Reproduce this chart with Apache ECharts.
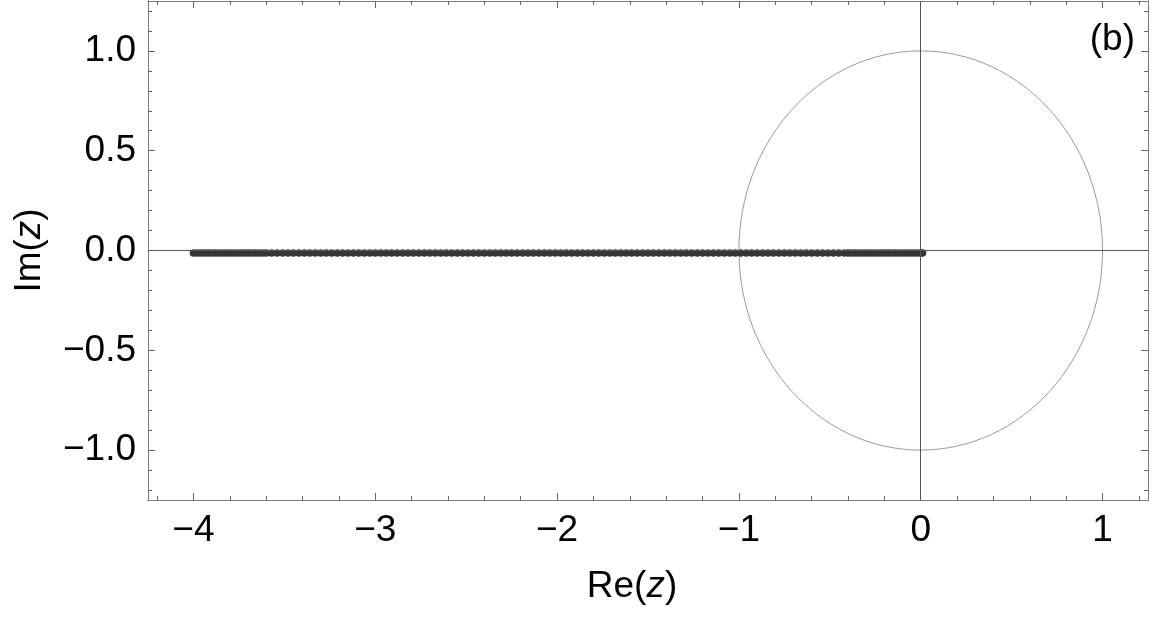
<!DOCTYPE html>
<html>
<head>
<meta charset="utf-8">
<script src="https://cdn.jsdelivr.net/npm/echarts@6/dist/echarts.min.js"></script>
<style>
  html, body { margin: 0; padding: 0; background: #fff; }
  #main { width: 1152px; height: 618px; }
</style>
</head>
<body>
<div id="main"></div>
<script>
const zeroRe = [
  -4.00, -3.98, -3.96, -3.94, -3.92, -3.90, -3.88, -3.86, -3.84, -3.82, -3.80,
  -3.78, -3.76, -3.74, -3.72, -3.70, -3.68, -3.66, -3.64, -3.62, -3.60,
  -3.57, -3.54, -3.51, -3.48, -3.45, -3.42, -3.39, -3.36, -3.33, -3.30,
  -3.27, -3.24, -3.21, -3.18, -3.15, -3.12, -3.09, -3.06, -3.03, -3.00,
  -2.97, -2.94, -2.91, -2.88, -2.85, -2.82, -2.79, -2.76, -2.73, -2.70,
  -2.67, -2.64, -2.61, -2.58, -2.55, -2.52, -2.49, -2.46, -2.43, -2.40,
  -2.37, -2.34, -2.31, -2.28, -2.25, -2.22, -2.19, -2.16, -2.13, -2.10,
  -2.07, -2.04, -2.01, -1.98, -1.95, -1.92, -1.89, -1.86, -1.83, -1.80,
  -1.77, -1.74, -1.71, -1.68, -1.65, -1.62, -1.59, -1.56, -1.53, -1.50,
  -1.47, -1.44, -1.41, -1.38, -1.35, -1.32, -1.29, -1.26, -1.23, -1.20,
  -1.17, -1.14, -1.11, -1.08, -1.05, -1.02, -0.99, -0.96, -0.93, -0.90,
  -0.87, -0.84, -0.81, -0.78, -0.75, -0.72, -0.69, -0.66, -0.63, -0.60,
  -0.57, -0.54, -0.51, -0.48, -0.45,
  -0.42, -0.40, -0.38, -0.36, -0.34, -0.32, -0.30, -0.28, -0.26, -0.24,
  -0.22, -0.20, -0.18, -0.16, -0.14, -0.12, -0.10, -0.08, -0.06, -0.04,
  -0.02, 0.00, 0.01
];
const zeroIm = -0.012;

// unit circle: [centerRe, centerIm, radius]
const unitCircle = [[0, 0, 1]];

const xRange = [-4.25, 1.25];
const yRange = [-1.25, 1.25];
const xMajorTicks = [-4, -3, -2, -1, 0, 1];
const xMinorTicks = [-4.2, -3.8, -3.6, -3.4, -3.2, -2.8, -2.6, -2.4, -2.2, -1.8, -1.6, -1.4, -1.2,
  -0.8, -0.6, -0.4, -0.2, 0.2, 0.4, 0.6, 0.8, 1.2];
const yMajorTicks = [-1.0, -0.5, 0.0, 0.5, 1.0];
const yMinorTicks = [-1.2, -1.1, -0.9, -0.8, -0.7, -0.6, -0.4, -0.3, -0.2, -0.1,
  0.1, 0.2, 0.3, 0.4, 0.6, 0.7, 0.8, 0.9, 1.1, 1.2];

const FONT = 'Liberation Sans, Arial, sans-serif';
const frameColor = '#7a7a7a';
const tickColor = '#666';

const minus = s => s.replace('-', '\u2212');

function xAxisDef(pos, ticks, len, withLabels) {
  return {
    type: 'value', position: pos, min: xRange[0], max: xRange[1],
    splitLine: { show: false },
    axisLine: { show: true, onZero: false, lineStyle: { color: frameColor, width: 1 } },
    axisTick: { show: true, inside: true, length: len, customValues: ticks, lineStyle: { color: tickColor } },
    axisLabel: withLabels ? {
      show: true, customValues: ticks, margin: 12, color: '#000',
      fontFamily: FONT, fontSize: 37,
      formatter: v => minus(String(Math.round(v)))
    } : { show: false }
  };
}

function yAxisDef(pos, ticks, len, withLabels) {
  return {
    type: 'value', position: pos, min: yRange[0], max: yRange[1],
    splitLine: { show: false },
    axisLine: { show: true, onZero: false, lineStyle: { color: frameColor, width: 1 } },
    axisTick: { show: true, inside: true, length: len, customValues: ticks, lineStyle: { color: tickColor } },
    axisLabel: withLabels ? {
      show: true, customValues: ticks, margin: 12, color: '#000',
      fontFamily: FONT, fontSize: 37,
      formatter: v => minus(v.toFixed(1))
    } : { show: false }
  };
}

const xMain = xAxisDef('bottom', xMajorTicks, 7, true);
xMain.name = 'Re({i|z})';
xMain.nameLocation = 'middle';
xMain.nameGap = 68;
xMain.nameTextStyle = {
  color: '#000', fontFamily: FONT, fontSize: 37, padding: [0, 32, 0, 0],
  rich: { i: { fontStyle: 'italic', fontFamily: FONT, fontSize: 37, color: '#000' } }
};

const yMain = yAxisDef('left', yMajorTicks, 7, true);
yMain.name = 'Im({i|z})';
yMain.nameLocation = 'middle';
yMain.nameGap = 100;
yMain.nameTextStyle = {
  color: '#000', fontFamily: FONT, fontSize: 37,
  rich: { i: { fontStyle: 'italic', fontFamily: FONT, fontSize: 37, color: '#000' } }
};

const chart = echarts.init(document.getElementById('main'));
chart.setOption({
  animation: false,
  backgroundColor: '#fff',
  grid: { left: 148, top: 1, width: 1000, height: 499, containLabel: false },
  xAxis: [
    xMain,
    xAxisDef('bottom', xMinorTicks, 4, false),
    xAxisDef('top', xMajorTicks, 7, false),
    xAxisDef('top', xMinorTicks, 4, false)
  ],
  yAxis: [
    yMain,
    yAxisDef('left', yMinorTicks, 4, false),
    yAxisDef('right', yMajorTicks, 7, false),
    yAxisDef('right', yMinorTicks, 4, false)
  ],
  graphic: [{
    type: 'text', right: 17, top: 21,
    style: { text: '(b)', fill: '#000', font: '37px ' + FONT }
  }],
  series: [
    {
      type: 'custom',
      xAxisIndex: 0, yAxisIndex: 0,
      silent: true, z: 1,
      data: unitCircle,
      renderItem: (params, api) => {
        const c = api.coord([api.value(0), api.value(1)]);
        const s = api.size([api.value(2), api.value(2)]);
        return {
          type: 'ellipse',
          shape: { cx: c[0], cy: c[1], rx: s[0], ry: s[1] },
          style: { fill: 'none', stroke: '#9a9a9a', lineWidth: 1 }
        };
      },
      markLine: {
        silent: true,
        symbol: ['none', 'none'],
        label: { show: false },
        lineStyle: { color: '#555', width: 1, type: 'solid' },
        data: [{ xAxis: 0 }, { yAxis: 0 }]
      }
    },
    {
      type: 'scatter',
      xAxisIndex: 0, yAxisIndex: 0,
      z: 3,
      symbol: 'circle',
      symbolSize: 7.5,
      itemStyle: { color: '#363636', opacity: 1 },
      data: zeroRe.map(re => [re, zeroIm])
    }
  ]
});
</script>
</body>
</html>
